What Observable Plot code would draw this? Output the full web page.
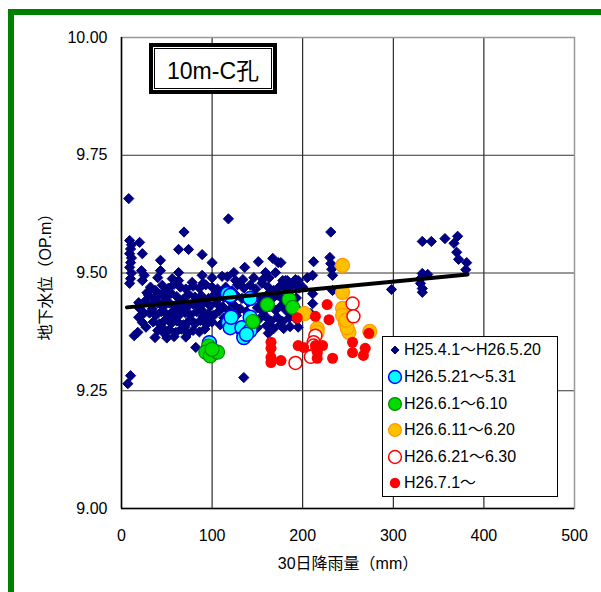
<!DOCTYPE html>
<html>
<head>
<meta charset="utf-8">
<script src="https://cdn.jsdelivr.net/npm/d3@7"></script>
<script src="https://cdn.jsdelivr.net/npm/@observablehq/plot@0.6"></script>
<style>
  html, body { margin: 0; padding: 0; background: #fff; }
  #wrap { position: relative; width: 601px; height: 592px; overflow: hidden; background: #fff; }
  #frame { position: absolute; left: 8px; top: 9px; width: 700px; height: 700px; border-left: 6px solid #008000; border-top: 6px solid #008000; pointer-events: none; }
  #titlebox { position: absolute; left: 149px; top: 43px; width: 120px; height: 43px; border: 4px solid #000; background: #fff; box-sizing: content-box; }
  #titlebox .inner { position: absolute; left: 1px; top: 1px; right: 1px; bottom: 1px; border: 1.5px solid #000; display: flex; align-items: center; justify-content: center; font: 23px "Liberation Sans", "Noto Sans CJK JP", sans-serif; color: #000; }
  #legend { position: absolute; left: 382px; top: 336px; width: 174px; height: 159px; border: 1px solid #000; background: #fff; font: 16px "Liberation Sans", "Noto Sans CJK JP", sans-serif; color: #000; }
  #legend .row { position: absolute; left: 0; height: 20px; display: flex; align-items: center; }
  #legend svg { position: absolute; left: 4px; top: 2px; }
  #legend span { position: absolute; left: 21px; white-space: nowrap; line-height: 20px; }
</style>
</head>
<body>
<div id="wrap"></div>
<script>
// ---- data ----
const xTicks = [0, 100, 200, 300, 400, 500];
const yTicks = [9.00, 9.25, 9.50, 9.75, 10.00];
const seriesNames = ["H25.4.1～H26.5.20", "H26.5.21～5.31", "H26.6.1～6.10", "H26.6.11～6.20", "H26.6.21～6.30", "H26.7.1～"];
const titleText = "10m-C孔";
const xLabel = "30日降雨量（mm）";
const yLabel = "地下水位（OP.m）";

// H25.4.1～H26.5.20 (30日降雨量 mm, 地下水位 OP.m)
const s1 = [
  [8,9.658],[69,9.587],[118,9.615],[231,9.587],
  [9,9.569],[11,9.560],[10,9.551],[9,9.541],[11,9.532],[10,9.522],[9,9.512],[11,9.500],[10,9.488],[9,9.478],
  [20,9.565],[23,9.541],[22,9.505],[23,9.484],[25,9.495],
  [10,9.282],[7,9.265],
  [43,9.527],[43,9.505],[40,9.490],[63,9.550],[74,9.550],[89,9.539],[100,9.522],[63,9.501],
  [63,9.484],[78,9.480],[89,9.495],[90,9.478],[100,9.490],[111,9.493],[49,9.463],[37,9.463],[56,9.488],
  [19,9.437],[20,9.425],[19,9.406],[23,9.395],[18,9.374],[14,9.367],[25,9.415],[27,9.385],
  [32,9.470],[38,9.462],[45,9.474],[52,9.468],[58,9.476],[65,9.470],[71,9.466],[79,9.472],[86,9.468],[93,9.475],[100,9.470],[106,9.466],
  [30,9.452],[36,9.446],[42,9.455],[49,9.448],[55,9.457],[61,9.450],[68,9.444],[74,9.455],[81,9.449],[88,9.452],[96,9.446],[103,9.455],[109,9.450],
  [33,9.432],[40,9.437],[46,9.428],[53,9.436],[59,9.430],[66,9.438],[72,9.427],[79,9.434],[85,9.429],[91,9.437],[98,9.430],[105,9.436],
  [31,9.415],[38,9.410],[44,9.418],[50,9.412],[57,9.419],[63,9.409],[70,9.416],[76,9.411],[83,9.418],[90,9.408],[96,9.414],[102,9.410],
  [35,9.396],[42,9.392],[48,9.400],[55,9.393],[61,9.398],[68,9.390],[74,9.397],[81,9.392],[87,9.399],[94,9.391],[100,9.396],
  [40,9.378],[47,9.372],[53,9.380],[60,9.374],[66,9.381],[73,9.372],[79,9.378],[86,9.375],[92,9.381],
  [37,9.363],[50,9.362],[58,9.365],[71,9.364],[82,9.342],
  [28,9.458],[34,9.424],[26,9.440],[47,9.440],[64,9.424],[88,9.422],[108,9.420],[57,9.405],[76,9.402],[97,9.404],[45,9.384],[70,9.386],[109,9.390],
  [124,9.501],[136,9.512],[151,9.524],[159,9.501],[167,9.531],[173,9.522],[170,9.501],[176,9.522],[134,9.486],[181,9.484],[192,9.486],[117,9.492],
  [146,9.490],[156,9.486],[126,9.484],[163,9.490],
  [115,9.470],[122,9.462],[128,9.475],[135,9.468],[142,9.474],[148,9.466],[155,9.478],[162,9.470],[168,9.463],[175,9.472],[182,9.466],[188,9.474],[196,9.468],
  [113,9.448],[120,9.440],[127,9.452],[133,9.446],[140,9.438],[147,9.450],[153,9.443],[160,9.452],[166,9.445],[172,9.453],[178,9.444],[185,9.452],[193,9.447],
  [112,9.428],[118,9.420],[125,9.430],[131,9.424],[138,9.418],[150,9.426],[156,9.418],[163,9.428],[170,9.421],[176,9.430],[182,9.420],[189,9.428],[196,9.420],
  [113,9.405],[120,9.400],[127,9.410],[152,9.402],[159,9.408],[165,9.398],[172,9.406],[178,9.397],[185,9.405],[192,9.403],
  [160,9.388],[168,9.382],[175,9.390],[179,9.382],[186,9.386],[195,9.385],[150,9.384],[142,9.372],[129,9.378],[162,9.372],
  [135,9.278],
  [212,9.524],[230,9.533],[231,9.520],[232,9.508],[233,9.495],[211,9.495],[195,9.484],[190,9.482],[183,9.484],[178,9.484],
  [233,9.463],[211,9.456],[211,9.435],[209,9.414],[200,9.470],[205,9.490],
  [298,9.465],[332,9.567],[342,9.567],[357,9.573],[371,9.578],[367,9.563],[370,9.544],[372,9.529],[381,9.522],[380,9.507],
  [332,9.499],[338,9.497],[330,9.488],[330,9.478],[332,9.467],[332,9.459]
];
// H26.5.21～5.31
const s2 = [
  [117,9.456],[120,9.452],[142,9.446],[118,9.395],[120,9.384],[121,9.406],[133,9.384],[142,9.406],[142,9.378],[135,9.363],[138,9.370],[97,9.352]
];
// H26.6.1～6.10
const s3 = [
  [96,9.345],[93,9.332],[98,9.324],[106,9.332],[100,9.338],[161,9.433],[185,9.444],[189,9.427],[145,9.397]
];
// H26.6.11～6.20
const s4 = [
  [244,9.516],[244,9.459],[244,9.425],[244,9.410],[247,9.395],[251,9.374],[249,9.384],[216,9.382],[216,9.374],[202,9.414],[274,9.376],[248,9.400]
];
// H26.6.21～6.30
const s5 = [
  [255,9.435],[256,9.408],[214,9.367],[212,9.353],[212,9.346],[214,9.329],[209,9.322],[192,9.309]
];
// H26.7.1～
const s6 = [
  [227,9.433],[214,9.408],[229,9.401],[194,9.405],[273,9.372],[255,9.353],[269,9.340],[255,9.331],[267,9.325],[233,9.319],
  [222,9.346],[201,9.342],[165,9.353],[165,9.340],[165,9.321],[165,9.310],[176,9.314],[214,9.346],[216,9.333],[216,9.319],[195,9.346]
];
// linear trend line (from the chart)
const trendX = [6, 382];
const trendY = [9.427, 9.497];

// ---- styles ----
const fontFamily = '"Liberation Sans", "Noto Sans CJK JP", sans-serif';
const styles = [
  {symbol: "diamond2", r: 4.6, fill: "#000080", stroke: "#000080", strokeWidth: 1},
  {symbol: "circle", r: 7, fill: "#00FFFF", stroke: "#0000FF", strokeWidth: 1.5},
  {symbol: "circle", r: 7, fill: "#00DD00", stroke: "#008800", strokeWidth: 1.2},
  {symbol: "circle", r: 7, fill: "#FFC000", stroke: "#FF9900", strokeWidth: 1.2},
  {symbol: "circle", r: 6.5, fill: "#FFFFFF", stroke: "#FF0000", strokeWidth: 1.5},
  {symbol: "circle", r: 5.5, fill: "#FF0000", stroke: "none", strokeWidth: 0}
];
const allSeries = [s1, s2, s3, s4, s5, s6];
const trend = trendX.map((x, i) => ({x, y: trendY[i]}));

const dotMarks = allSeries.map((s, i) =>
  Plot.dot(s, {x: d => d[0], y: d => d[1], ...styles[i]})
);

const chart = Plot.plot({
  width: 601,
  height: 592,
  marginLeft: 121,
  marginRight: 27,
  marginTop: 37,
  marginBottom: 84,
  style: {fontFamily, fontSize: "16px", color: "#000", background: "#fff", overflow: "visible"},
  x: {domain: [0, 500]},
  y: {domain: [9, 10]},
  marks: [
    Plot.gridX(xTicks.slice(1, -1), {stroke: "#000", strokeOpacity: 1, strokeWidth: 1}),
    Plot.gridY(yTicks.slice(1, -1), {stroke: "#333", strokeOpacity: 1, strokeWidth: 1}),
    Plot.frame({stroke: "#999", strokeWidth: 1.5}),
    Plot.ruleX([0], {stroke: "#000", strokeWidth: 1.5}),
    Plot.ruleY([9], {stroke: "#000", strokeWidth: 1.5}),
    Plot.axisX(xTicks, {tickSize: 0, tickPadding: 21, fontSize: 16, tickFormat: d => String(d),
      label: xLabel, labelAnchor: "center", labelArrow: "none", labelOffset: 60}),
    Plot.axisY(yTicks, {tickSize: 0, tickPadding: 14, fontSize: 16, tickFormat: d => d.toFixed(2),
      label: yLabel, labelAnchor: "center", labelArrow: "none", labelOffset: 82}),
    ...dotMarks,
    Plot.line(trend, {x: "x", y: "y", stroke: "#000", strokeWidth: 4})
  ]
});

const wrap = document.getElementById("wrap");
wrap.appendChild(chart);

// green frame
const frame = document.createElement("div");
frame.id = "frame";
wrap.appendChild(frame);

// title box
const tb = document.createElement("div");
tb.id = "titlebox";
const inner = document.createElement("div");
inner.className = "inner";
inner.textContent = titleText;
tb.appendChild(inner);
wrap.appendChild(tb);

// legend
const lg = document.createElement("div");
lg.id = "legend";
const rowTops = [3, 30, 57, 83, 110, 136];
seriesNames.forEach((name, i) => {
  const row = document.createElement("div");
  row.className = "row";
  row.style.top = rowTops[i] + "px";
  const st = styles[i];
  const sz = 16;
  const svg = d3.create("svg").attr("width", sz).attr("height", sz);
  const sym = d3.symbol().type(i === 0 ? d3.symbolDiamond2 : d3.symbolCircle)
    .size(i === 0 ? 40 : (i === 5 ? 85 : 130));
  svg.append("path").attr("d", sym()).attr("transform", `translate(${sz/2},${sz/2})`)
    .attr("fill", st.fill).attr("stroke", st.stroke).attr("stroke-width", st.strokeWidth);
  row.appendChild(svg.node());
  const span = document.createElement("span");
  span.textContent = name;
  row.appendChild(span);
  lg.appendChild(row);
});
wrap.appendChild(lg);
</script>
</body>
</html>
